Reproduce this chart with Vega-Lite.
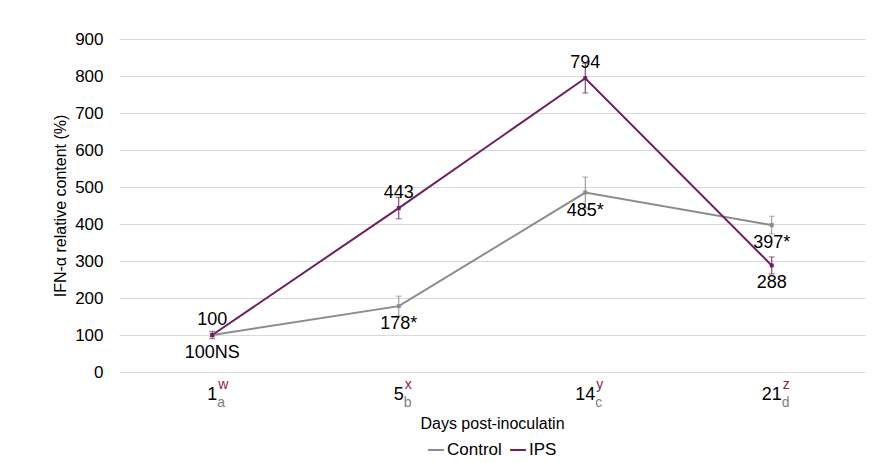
{
  "$schema": "https://vega.github.io/schema/vega-lite/v6.json",
  "autosize": {"type": "none"},
  "width": 746,
  "height": 333,
  "padding": {"left": 119, "top": 39, "right": 24, "bottom": 91},
  "background": "white",
  "config": {
    "font": "Liberation Sans",
    "view": {"stroke": null},
    "axis": {"labelFont": "Liberation Sans", "titleFont": "Liberation Sans"},
    "axisY": {
      "grid": true, "gridColor": "#d9d9d9", "domain": false, "ticks": false, "labelOverlap": false,
      "tickCount": 9, "labelFontSize": 17, "labelColor": "#000000", "labelPadding": 16,
      "titleFontSize": 16, "titleFontWeight": "normal", "titleColor": "#000000", "titlePadding": 6
    }
  },
  "datasets": {
    "series": [
      {"day": "1", "group": "Control", "value": 100, "lo": 95, "hi": 105, "label": "100NS"},
      {"day": "5", "group": "Control", "value": 178, "lo": 151, "hi": 205, "label": "178*"},
      {"day": "14", "group": "Control", "value": 485, "lo": 443, "hi": 527, "label": "485*"},
      {"day": "21", "group": "Control", "value": 397, "lo": 373, "hi": 421, "label": "397*"},
      {"day": "1", "group": "IPS", "value": 100, "lo": 90, "hi": 110, "label": "100"},
      {"day": "5", "group": "IPS", "value": 443, "lo": 414, "hi": 472, "label": "443"},
      {"day": "14", "group": "IPS", "value": 794, "lo": 754, "hi": 834, "label": "794"},
      {"day": "21", "group": "IPS", "value": 288, "lo": 265, "hi": 311, "label": "288"}
    ],
    "ticks": [
      {"day": "1", "sup": "w", "sub": "a", "digits": 1, "main": -62, "supy": -35, "suby": -84},
      {"day": "5", "sup": "x", "sub": "b", "digits": 1, "main": -62, "supy": -35, "suby": -84},
      {"day": "14", "sup": "y", "sub": "c", "digits": 2, "main": -62, "supy": -35, "suby": -84},
      {"day": "21", "sup": "z", "sub": "d", "digits": 2, "main": -62, "supy": -35, "suby": -84}
    ]
  },
  "data": {"name": "series"},
  "encoding": {
    "x": {
      "field": "day", "type": "ordinal", "sort": ["1", "5", "14", "21"],
      "scale": {"type": "point", "padding": 0.5},
      "axis": {
        "title": "Days post-inoculatin", "labels": false, "ticks": false, "domain": false,
        "titleFontSize": 16, "titleFontWeight": "normal", "titleColor": "#000000", "titlePadding": 43
      }
    }
  },
  "layer": [
    {
      "mark": {"type": "line", "strokeWidth": 2},
      "encoding": {
        "y": {
          "field": "value", "type": "quantitative",
          "scale": {"domain": [0, 900]},
          "axis": {"title": "IFN-α relative content (%)"}
        },
        "color": {
          "field": "group", "type": "nominal",
          "scale": {"domain": ["Control", "IPS"], "range": ["#8c8c8c", "#6e1f5f"]},
          "legend": {
            "title": null, "orient": "none", "legendX": 308, "legendY": 402, "direction": "horizontal",
            "symbolType": "stroke", "symbolStrokeWidth": 2, "symbolSize": 250,
            "labelFontSize": 17, "labelColor": "#000000", "labelOffset": 2,
            "columnPadding": 4
          }
        }
      }
    },
    {
      "mark": {"type": "rule", "strokeWidth": 1},
      "encoding": {
        "y": {"field": "lo", "type": "quantitative", "axis": {"title": "IFN-α relative content (%)"}},
        "y2": {"field": "hi"},
        "color": {"field": "group", "type": "nominal", "legend": null}
      }
    },
    {
      "mark": {"type": "tick", "orient": "horizontal", "size": 6, "thickness": 1},
      "encoding": {
        "y": {"field": "lo", "type": "quantitative", "axis": {"title": "IFN-α relative content (%)"}},
        "color": {"field": "group", "type": "nominal", "legend": null}
      }
    },
    {
      "mark": {"type": "tick", "orient": "horizontal", "size": 6, "thickness": 1},
      "encoding": {
        "y": {"field": "hi", "type": "quantitative", "axis": {"title": "IFN-α relative content (%)"}},
        "color": {"field": "group", "type": "nominal", "legend": null}
      }
    },
    {
      "mark": {"type": "point", "shape": "square", "filled": true, "size": 16, "opacity": 1},
      "encoding": {
        "y": {"field": "value", "type": "quantitative", "axis": {"title": "IFN-α relative content (%)"}},
        "color": {"field": "group", "type": "nominal", "legend": null}
      }
    },
    {
      "transform": [{"filter": "datum.group === 'IPS' && datum.day !== '21'"}],
      "mark": {"type": "text", "fontSize": 18, "dy": -15, "baseline": "middle", "color": "#000000"},
      "encoding": {
        "y": {"field": "value", "type": "quantitative", "axis": {"title": "IFN-α relative content (%)"}},
        "text": {"field": "label"}
      }
    },
    {
      "transform": [{"filter": "datum.group === 'Control' || datum.day === '21'"}],
      "mark": {"type": "text", "fontSize": 18, "dy": 18, "baseline": "middle", "color": "#000000"},
      "encoding": {
        "y": {"field": "value", "type": "quantitative", "axis": {"title": "IFN-α relative content (%)"}},
        "text": {"field": "label"}
      }
    },
    {
      "data": {"name": "ticks"},
      "mark": {"type": "text", "fontSize": 18, "baseline": "middle", "color": "#000000"},
      "encoding": {
        "y": {"field": "main", "type": "quantitative", "axis": {"title": "IFN-α relative content (%)"}},
        "text": {"field": "day"}
      }
    },
    {
      "data": {"name": "ticks"},
      "transform": [{"filter": "datum.digits === 1"}],
      "mark": {"type": "text", "fontSize": 14, "baseline": "middle", "align": "left", "dx": 6, "color": "#8b2252"},
      "encoding": {
        "y": {"field": "supy", "type": "quantitative", "axis": {"title": "IFN-α relative content (%)"}},
        "text": {"field": "sup"}
      }
    },
    {
      "data": {"name": "ticks"},
      "transform": [{"filter": "datum.digits === 1"}],
      "mark": {"type": "text", "fontSize": 14, "baseline": "middle", "align": "left", "dx": 5, "color": "#808080"},
      "encoding": {
        "y": {"field": "suby", "type": "quantitative", "axis": {"title": "IFN-α relative content (%)"}},
        "text": {"field": "sub"}
      }
    },
    {
      "data": {"name": "ticks"},
      "transform": [{"filter": "datum.digits === 2"}],
      "mark": {"type": "text", "fontSize": 14, "baseline": "middle", "align": "left", "dx": 11, "color": "#8b2252"},
      "encoding": {
        "y": {"field": "supy", "type": "quantitative", "axis": {"title": "IFN-α relative content (%)"}},
        "text": {"field": "sup"}
      }
    },
    {
      "data": {"name": "ticks"},
      "transform": [{"filter": "datum.digits === 2"}],
      "mark": {"type": "text", "fontSize": 14, "baseline": "middle", "align": "left", "dx": 10, "color": "#808080"},
      "encoding": {
        "y": {"field": "suby", "type": "quantitative", "axis": {"title": "IFN-α relative content (%)"}},
        "text": {"field": "sub"}
      }
    }
  ]
}
